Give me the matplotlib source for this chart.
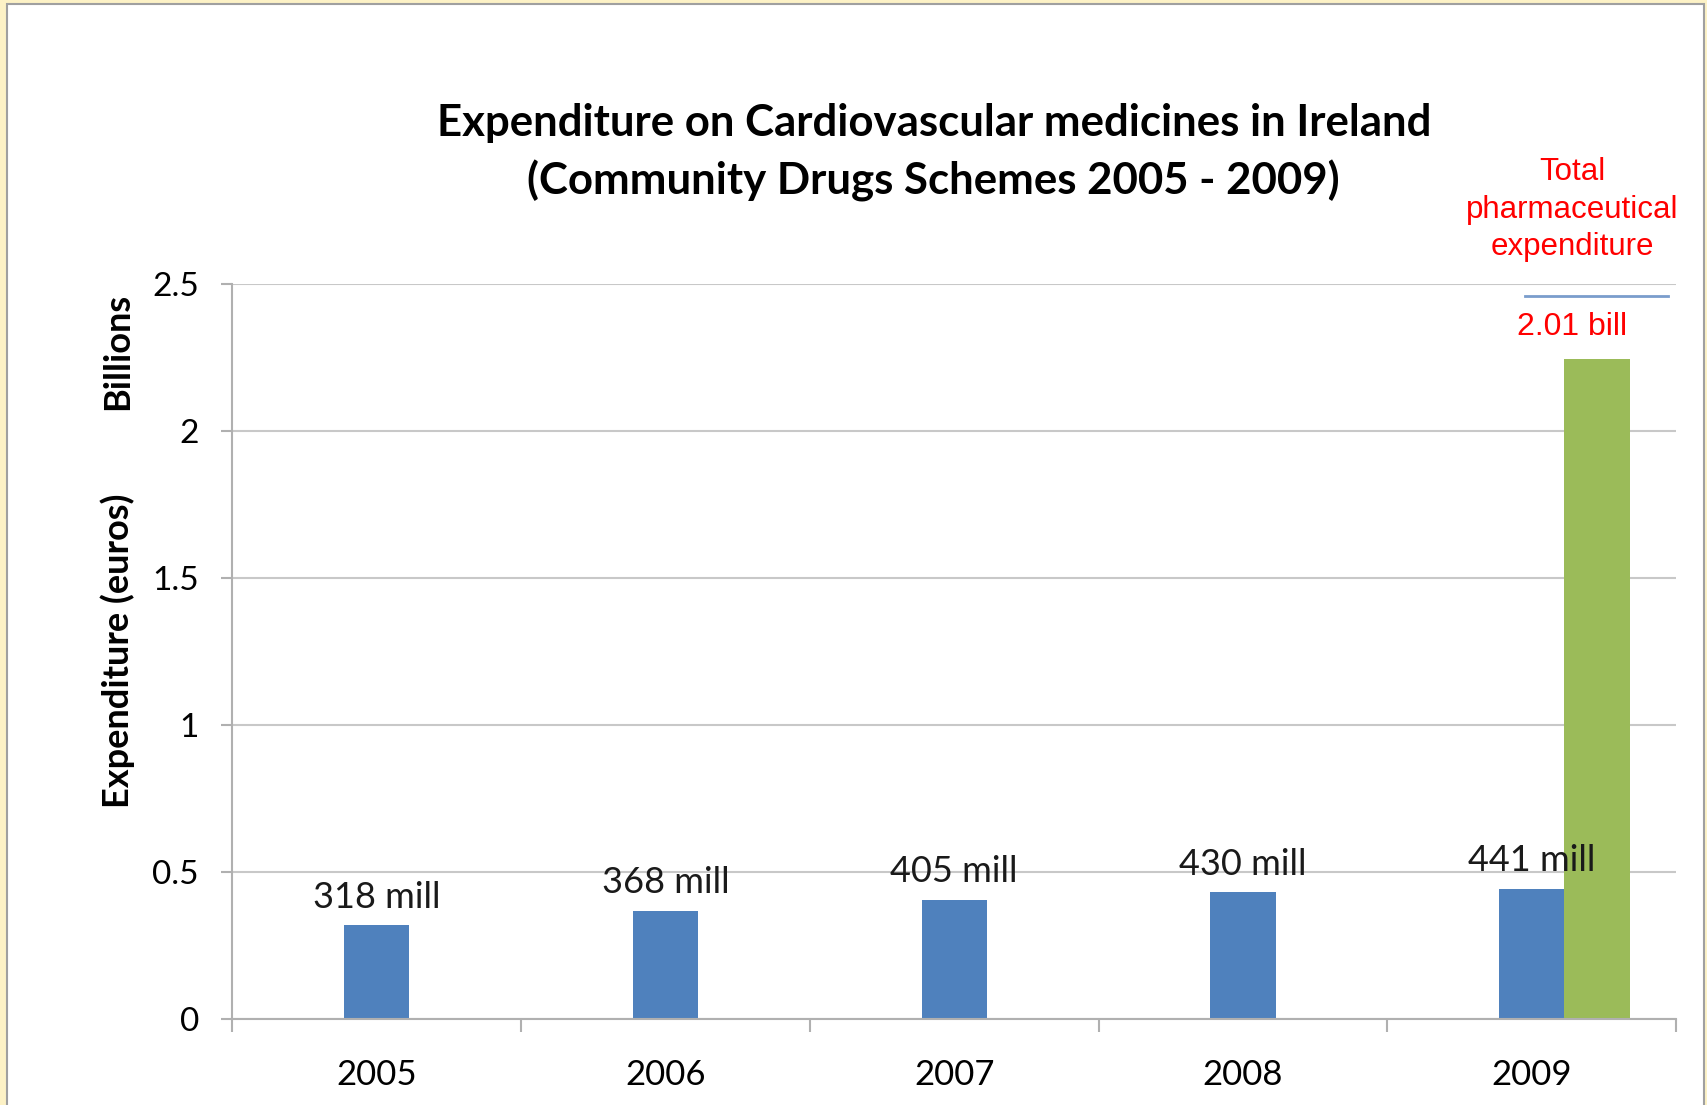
import matplotlib.pyplot as plt
from matplotlib.patches import Rectangle
import numpy as np

# Dados
anos = ["2005", "2006", "2007", "2008", "2009"]
cardio = [0.318, 0.368, 0.405, 0.430, 0.441]          # bilhoes de euros
rotulos = ["318 mill", "368 mill", "405 mill", "430 mill", "441 mill"]
total_2009 = 2.244                                     # altura visivel da barra verde
total_rotulo = "2.01 bill"
total_texto = "Total\npharmaceutical\nexpenditure"

azul = "#4f81bd"
verde = "#9bbb59"
fonte = ["Lato", "DejaVu Sans"]
fonte_vermelha = ["Liberation Sans", "DejaVu Sans"]

fig = plt.figure(figsize=(17.07, 11.05), dpi=100, facecolor="#fdf2c6")
fig.patches.append(Rectangle((7 / 1707, -0.01), 1697 / 1707, 1.01 - 4 / 1105,
                             transform=fig.transFigure, facecolor="white",
                             edgecolor="#a0a0a0", linewidth=1.5, zorder=-10))

ax = fig.add_axes([0.136, 0.078, 0.846, 0.665])
ax.set_facecolor("white")

x = np.arange(len(anos))
largura = 0.226
ax.bar(x, cardio, width=largura, color=azul, zorder=2)
ax.bar(x[-1] + largura, total_2009, width=largura, color=verde, zorder=2)

for xi, v, r in zip(x, cardio, rotulos):
    ax.text(xi, v + 0.04, r, ha="center", va="bottom", fontsize=26,
            family=fonte, color="#1a1a1a", zorder=4)

# caixa branca sobre o topo da barra verde
ax.add_patch(Rectangle((3.88, total_2009), 0.69, 0.21, facecolor="white",
                       edgecolor="none", zorder=3))
ax.plot([3.975, 4.47], [2.459, 2.459], color="#7a9dcc", linewidth=2, zorder=3)
ax.text(4.14, 2.355, total_rotulo, ha="center", va="center", fontsize=23,
        family=fonte_vermelha, color="red", zorder=4)
ax.text(4.14, 2.575, total_texto, ha="center", va="bottom", fontsize=22.5,
        family=fonte_vermelha, color="red", linespacing=1.32, zorder=4,
        clip_on=False)

ax.set_xlim(-0.5, 4.5)
ax.set_ylim(0, 2.5)
ax.set_yticks([0, 0.5, 1, 1.5, 2, 2.5])
ax.set_yticklabels(["0", "0.5", "1", "1.5", "2", "2.5"], family=fonte, fontsize=24)
ax.set_xticks(np.arange(-0.5, 5, 1))
ax.set_xticklabels([])
ax.set_xticks(x, minor=True)
ax.set_xticklabels(anos, minor=True, family=fonte, fontsize=25)
ax.tick_params(axis="x", which="major", length=9, color="#b0b0b0", width=1.5)
ax.tick_params(axis="x", which="minor", length=0, pad=29)
ax.tick_params(axis="y", length=8, color="#b0b0b0", width=1.5, pad=16)

ax.grid(axis="y", color="#c8c8c8", linewidth=1.5, zorder=1)
ax.set_axisbelow(True)
for s in ["top", "right"]:
    ax.spines[s].set_visible(False)
for s in ["left", "bottom"]:
    ax.spines[s].set_color("#b0b0b0")
    ax.spines[s].set_linewidth(1.5)

fig.text(0.069, 0.411, "Expenditure (euros)", rotation=90, ha="center", va="center",
         fontsize=26, fontweight="bold", family=fonte)
fig.text(0.069, 0.682, "Billions", rotation=90, ha="center", va="center",
         fontsize=26, fontweight="bold", family=fonte)

fig.text(0.547, 0.889, "Expenditure on Cardiovascular medicines in Ireland",
         ha="center", va="center", fontsize=31.5, fontweight="bold", family=fonte)
fig.text(0.547, 0.836, "(Community Drugs Schemes 2005 - 2009)",
         ha="center", va="center", fontsize=31.5, fontweight="bold", family=fonte)

fig.savefig("out.png", dpi=100, facecolor=fig.get_facecolor())
